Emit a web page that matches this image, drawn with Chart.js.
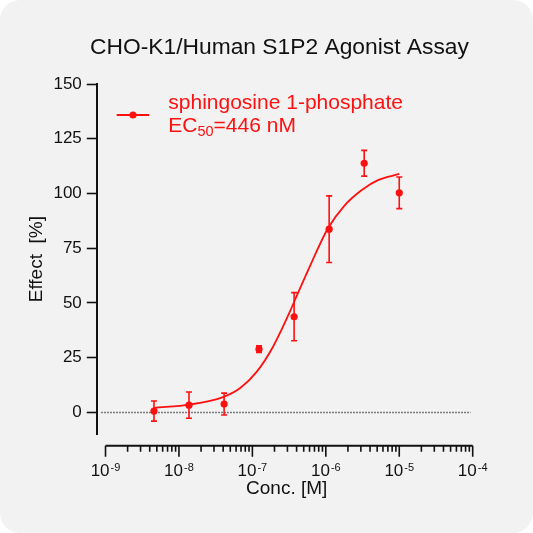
<!DOCTYPE html>
<html>
<head>
<meta charset="utf-8">
<script src="https://cdn.jsdelivr.net/npm/chart.js@4"></script>
<style>
  html, body { margin: 0; padding: 0; background: #ffffff; }
  #wrap { width: 533px; height: 533px; border-radius: 20px; background: #f2f2f2; overflow: hidden; }
  canvas { display: block; }
</style>
</head>
<body>
<div id="wrap"><canvas id="c" width="533" height="533"></canvas></div>
<script>
// ---- text ----
const chartTitle = 'CHO-K1/Human S1P2 Agonist Assay';
const seriesName = 'sphingosine 1-phosphate';
const ec50Prefix = 'EC';
const ec50Sub = '50';
const ec50Value = '=446 nM';
const xTitle = 'Conc. [M]';
const yTitle = 'Effect  [%]';

// ---- measured points (concentration in M, effect in %) ----
const concentrations = [4.57e-9, 1.37e-8, 4.12e-8, 1.23e-7, 3.70e-7, 1.11e-6, 3.33e-6, 1.0e-5];
const effects        = [0.6, 3.3, 3.8, 28.9, 43.7, 83.7, 113.8, 100.3];
const errors         = [4.6, 6.0, 5.0, 1.5, 11.0, 15.2, 5.9, 7.2];

// ---- fitted curve ----
const fitConc   = [4.57e-9, 1.41e-8, 3.98e-8, 6.76e-8, 1.15e-7, 1.91e-7, 3.24e-7, 4.17e-7, 6.46e-7, 1.07e-6, 1.82e-6, 3.09e-6, 5.13e-6, 1.0e-5];
const fitEffect = [2.1, 3.6, 7.0, 11.0, 18.6, 30.0, 46.0, 54.5, 68.8, 84.1, 94.7, 101.6, 106.1, 108.9];

// ---- axes ----
const yTicks = [0, 25, 50, 75, 100, 125, 150];
const xDecades = [-9, -8, -7, -6, -5, -4];
const xMinorSteps = [2, 3, 4, 5, 6, 7, 8, 9];
const X_MIN = 7.73e-10, X_MAX = 1e-4;
const Y_MIN = -10, Y_MAX = 150;

const RED = 'rgb(255,16,16)';
const INK = '#111111';
const FONT = "'Liberation Sans', Arial, sans-serif";

Chart.defaults.font.family = FONT;
Chart.defaults.color = INK;

const decor = {
  id: 'decor',
  beforeDatasetsDraw(chart) {
    const ctx = chart.ctx, xs = chart.scales.x, ys = chart.scales.y;
    const y0 = ys.getPixelForValue(0);
    ctx.save();
    ctx.strokeStyle = '#4a4a4a';
    ctx.lineWidth = 1.5;
    ctx.setLineDash([1.4, 1.6]);
    ctx.beginPath();
    ctx.moveTo(chart.chartArea.left + 4, y0);
    ctx.lineTo(xs.getPixelForValue(X_MAX) - 2, y0);
    ctx.stroke();
    ctx.restore();
  },
  afterDatasetsDraw(chart) {
    const ctx = chart.ctx, xs = chart.scales.x, ys = chart.scales.y;
    ctx.save();
    ctx.strokeStyle = RED;
    ctx.lineWidth = 1.6;
    concentrations.forEach((c, i) => {
      const px = xs.getPixelForValue(c);
      const top = ys.getPixelForValue(effects[i] + errors[i]);
      const bot = ys.getPixelForValue(effects[i] - errors[i]);
      ctx.beginPath();
      ctx.moveTo(px, top); ctx.lineTo(px, bot);
      ctx.moveTo(px - 3, top); ctx.lineTo(px + 3, top);
      ctx.moveTo(px - 3, bot); ctx.lineTo(px + 3, bot);
      ctx.stroke();
    });
    ctx.restore();
  },
  afterDraw(chart) {
    const ctx = chart.ctx, xs = chart.scales.x;
    const area = chart.chartArea;
    ctx.save();
    // x axis (offset below the plot)
    const axisY = area.bottom + 11.4;
    const xa = xs.getPixelForValue(Math.pow(10, xDecades[0]));
    const xb = xs.getPixelForValue(Math.pow(10, xDecades[xDecades.length - 1]));
    ctx.strokeStyle = INK;
    ctx.lineWidth = 2;
    ctx.beginPath();
    ctx.moveTo(xa, axisY); ctx.lineTo(xb, axisY);
    ctx.stroke();
    ctx.lineWidth = 1.6;
    ctx.beginPath();
    xDecades.forEach((d, i) => {
      const p = xs.getPixelForValue(Math.pow(10, d));
      ctx.moveTo(p, axisY); ctx.lineTo(p, axisY + 11);
      if (i < xDecades.length - 1) {
        xMinorSteps.forEach(m => {
          const q = xs.getPixelForValue(m * Math.pow(10, d));
          ctx.moveTo(q, axisY); ctx.lineTo(q, axisY + 6);
        });
      }
    });
    ctx.stroke();
    // x tick labels 10^n
    ctx.fillStyle = INK;
    ctx.textBaseline = 'alphabetic';
    ctx.textAlign = 'left';
    xDecades.forEach(d => {
      const p = xs.getPixelForValue(Math.pow(10, d));
      ctx.font = '17px ' + FONT;
      const wBase = ctx.measureText('10').width;
      ctx.font = '11px ' + FONT;
      const exp = '-' + Math.abs(d);
      const wExp = ctx.measureText(exp).width;
      const start = p - (wBase + wExp + 1) / 2;
      ctx.font = '17px ' + FONT;
      ctx.fillText('10', start, axisY + 30.3);
      ctx.font = '11px ' + FONT;
      ctx.fillText(exp, start + wBase + 1, axisY + 25.5);
    });
    // x title
    ctx.font = '19px ' + FONT;
    ctx.textAlign = 'center';
    ctx.fillText(xTitle, 286.7, axisY + 48.3);
    // chart title
    ctx.font = '22.8px ' + FONT;
    ctx.fillText(chartTitle, 279.5, 54);
    // legend
    ctx.strokeStyle = RED;
    ctx.fillStyle = RED;
    ctx.lineWidth = 1.8;
    ctx.beginPath();
    ctx.moveTo(116.7, 115); ctx.lineTo(149.3, 115);
    ctx.stroke();
    ctx.beginPath();
    ctx.arc(133, 115, 3.6, 0, Math.PI * 2);
    ctx.fill();
    ctx.textAlign = 'left';
    ctx.font = '21px ' + FONT;
    ctx.fillText(seriesName, 168.3, 109.3);
    let tx = 168.3;
    ctx.fillText(ec50Prefix, tx, 131.7);
    tx += ctx.measureText(ec50Prefix).width;
    ctx.font = '14.5px ' + FONT;
    ctx.fillText(ec50Sub, tx, 135.5);
    tx += ctx.measureText(ec50Sub).width;
    ctx.font = '21px ' + FONT;
    ctx.fillText(ec50Value, tx, 131.7);
    ctx.restore();
  }
};

new Chart(document.getElementById('c'), {
  data: {
    datasets: [
      {
        type: 'line',
        label: 'fit',
        data: fitConc.map((c, i) => ({ x: c, y: fitEffect[i] })),
        borderColor: RED,
        borderWidth: 1.8,
        pointRadius: 0,
        fill: false,
        cubicInterpolationMode: 'monotone'
      },
      {
        type: 'scatter',
        label: seriesName,
        data: concentrations.map((c, i) => ({ x: c, y: effects[i] })),
        backgroundColor: RED,
        borderColor: RED,
        borderWidth: 0,
        pointRadius: 3.6
      }
    ]
  },
  options: {
    responsive: false,
    animation: false,
    devicePixelRatio: 1,
    layout: { padding: { left: 25.3, right: 60.3, top: 84, bottom: 98.7 } },
    plugins: {
      legend: { display: false },
      title: { display: false },
      tooltip: { enabled: false }
    },
    scales: {
      x: {
        type: 'logarithmic',
        min: X_MIN,
        max: X_MAX,
        bounds: 'data',
        display: false
      },
      y: {
        type: 'linear',
        min: Y_MIN,
        max: Y_MAX,
        bounds: 'data',
        afterBuildTicks: s => { s.ticks = yTicks.map(v => ({ value: v })); },
        afterFit: s => { s.width = 72; },
        border: { display: true, color: INK, width: 2 },
        grid: {
          display: true,
          drawOnChartArea: false,
          drawTicks: true,
          tickLength: 10.5,
          tickColor: INK,
          tickWidth: 1.6,
          color: 'rgba(0,0,0,0)'
        },
        ticks: {
          color: INK,
          padding: 5,
          font: { size: 17, family: FONT }
        },
        title: {
          display: true,
          text: yTitle,
          color: INK,
          padding: { top: 0, bottom: 0 },
          font: { size: 19, family: FONT }
        }
      }
    }
  },
  plugins: [decor]
});
</script>
</body>
</html>
